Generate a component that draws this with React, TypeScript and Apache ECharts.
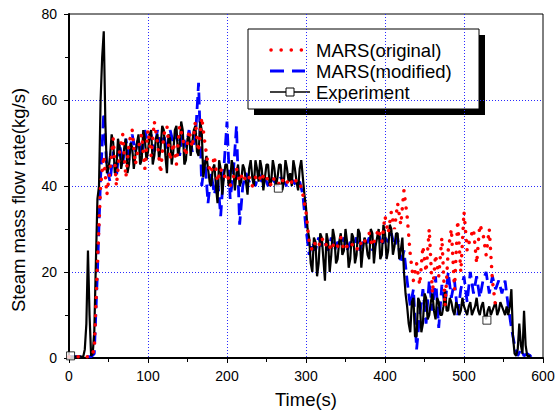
import React, { useEffect, useRef } from "react";
import * as echarts from "echarts";

// Time grid (s)
const times = [
  0, 4, 8, 12, 16, 20, 24, 28, 32, 36,
  40, 44, 48, 52, 56, 60, 64, 68, 72, 76,
  80, 84, 88, 92, 96, 100, 104, 108, 112, 116,
  120, 124, 128, 132, 136, 140, 144, 148, 152, 156,
  160, 164, 168, 172, 176, 180, 184, 188, 192, 196,
  200, 204, 208, 212, 216, 220, 224, 228, 232, 236,
  240, 244, 248, 252, 256, 260, 264, 268, 272, 276,
  280, 284, 288, 292, 296, 300, 304, 308, 312, 316,
  320, 324, 328, 332, 336, 340, 344, 348, 352, 356,
  360, 364, 368, 372, 376, 380, 384, 388, 392, 396,
  400, 404, 408, 412, 416, 420, 424, 428, 432, 436,
  440, 444, 448, 452, 456, 460, 464, 468, 472, 476,
  480, 484, 488, 492, 496, 500, 504, 508, 512, 516,
  520, 524, 528, 532, 536, 540, 544, 548, 552, 556,
  560, 564, 568, 572, 576, 580, 584, 588, 592, 596,
  600,
];
// Offset of the intermediate experiment samples (s)
const midOffset = 2;

// Experiment (kg/s) at times[i]
const experiment = [
  0.5, 0.3, 0.3, 0.3, 0.3, 2, 25, 0.5, 6, 37,
  60, 76, 43, 47, 50, 44, 49, 46, 51, 45,
  49, 47, 52, 46, 51, 48, 53, 47, 52, 49,
  53, 43, 51, 48, 54, 49, 53, 46, 52, 50,
  54, 47, 53, 45, 44, 40, 45, 36, 44, 42,
  45, 41, 44, 43, 40, 45, 41, 44, 42, 46,
  41, 44, 42, 45, 41, 44, 42, 45, 41, 44,
  43, 46, 41, 44, 42, 35, 28, 20, 27, 22,
  28, 18, 27, 24, 28, 23, 29, 25, 27, 23,
  28, 24, 29, 25, 27, 23, 29, 26, 30, 24,
  29, 25, 30, 26, 29, 25, 20, 12, 6, 14,
  5, 13, 8, 14, 10, 15, 9, 13, 10, 16,
  11, 13, 10, 12, 11, 12, 10, 13, 11, 14,
  10, 13, 9, 12, 11, 13, 11, 12, 10, 10,
  16, 1, 2, 3, 11, 0.5, 0.5,
];

// Experiment (kg/s) at times[i] + 2 s
const experimentMid = [
  0.3, 0.3, 0.3, 0.3, 0.3, 8, 10, 1, 22, 40,
  70, 55, 44, 52, 43, 51, 44, 49, 43, 50,
  44, 50, 45, 53, 46, 52, 45, 51, 46, 54,
  47, 52, 45, 53, 47, 55, 45, 51, 47, 53,
  48, 55, 42, 47, 41, 44, 40, 46, 38, 45,
  40, 46, 39, 45, 41, 44, 38, 46, 40, 44,
  46, 39, 45, 40, 46, 40, 45, 39, 46, 41,
  40, 44, 39, 46, 38, 30, 22, 28, 19, 29,
  23, 29, 20, 30, 22, 27, 24, 30, 21, 29,
  22, 30, 21, 28, 24, 30, 22, 28, 23, 31,
  23, 31, 24, 29, 23, 28, 15, 8, 13, 5,
  14, 6, 15, 9, 13, 11, 14, 10, 12, 11,
  14, 11, 13, 10, 14, 11, 12, 10, 12, 11,
  12, 10, 11, 10, 12, 10, 13, 11, 12, 12,
  5, 0.5, 8, 1, 3, 0.5,
];

// MARS (original) (kg/s)
const marsOriginal = [
  0.3, 0.3, 0.3, 0.3, 0.3, 0.3, 0.3, 0.3, 2, 22,
  40, 47, 38, 44, 51, 40, 48, 52, 42, 50,
  53, 45, 49, 52, 44, 53, 47, 55, 50, 43,
  52, 54, 46, 50, 45, 54, 51, 47, 53, 49,
  55, 48, 56, 50, 45, 43, 47, 41, 44, 42,
  43, 40, 42, 44, 41, 43, 41, 42, 40, 42,
  41, 43, 41, 42, 40, 42, 41, 40, 42, 41,
  40, 42, 41, 41, 38, 34, 27, 25, 27, 26,
  28, 26, 27, 25, 27, 26, 28, 25, 26, 27,
  26, 25, 27, 26, 28, 29, 26, 28, 30, 27,
  33, 29, 34, 30, 36, 31, 39, 33, 24, 18,
  22, 17, 26, 20, 30, 15, 24, 19, 28, 12,
  25, 30, 16, 32, 20, 34, 25, 28, 30, 22,
  31, 29, 24, 30, 18, 12,
];

// MARS (modified) (kg/s)
const marsModified = [
  0.3, 0.3, 0.3, 0.3, 0.3, 0.3, 0.3, 0.3, 1, 20,
  42, 57, 44, 41, 48, 42, 50, 45, 51, 46,
  52, 48, 51, 47, 53, 50, 52, 48, 53, 50,
  52, 48, 53, 50, 52, 47, 52, 49, 53, 48,
  51, 64, 40, 46, 36, 43, 38, 42, 33, 44,
  55, 37, 43, 54, 31, 40, 43, 41, 42, 40,
  43, 41, 42, 40, 42, 41, 40, 42, 41, 40,
  42, 41, 40, 41, 38, 30, 24, 27, 25, 28,
  26, 27, 25, 28, 25, 27, 26, 28, 25, 27,
  26, 28, 25, 27, 26, 28, 25, 27, 29, 26,
  28, 27, 29, 26, 28, 22, 25, 18, 12, 16,
  2, 10, 16, 8, 18, 11, 19, 7, 17, 12,
  20, 14, 18, 10, 16, 19, 13, 20, 15, 19,
  14, 18, 20, 15, 19, 16, 18, 15, 18, 12,
  7, 3, 0.5, 2, 0.5, 1, 0.5, 1, 1,
];

// Experiment symbol positions
const markerTimes = [2, 265, 529];
const markerValues = [0.5, 39.5, 8.8];

const legendNames = ["MARS(original)", "MARS(modified)", "Experiment"];
const xAxisName = "Time(s)";
const yAxisName = "Steam mass flow rate(kg/s)";

const FONT = "'Liberation Sans', Arial, Helvetica, sans-serif";

export default function App() {
  const ref = useRef<HTMLDivElement>(null);

  useEffect(() => {
    document.body.style.margin = "0";
    if (!ref.current) return;
    const chart = echarts.init(ref.current, null, { renderer: "svg" });
    const pair = (vals: number[]) => vals.map((v, i) => [times[i], v]);
    const expData: number[][] = [];
    experiment.forEach((v, i) => {
      expData.push([times[i], v]);
      if (i < experimentMid.length) expData.push([times[i] + midOffset, experimentMid[i]]);
    });
    const gridLine = { color: "#2a2aff", type: [1, 2] as number[], width: 1 };

    chart.setOption({
      animation: false,
      backgroundColor: "#ffffff",
      grid: {
        left: 69,
        right: 15,
        top: 14,
        bottom: 54,
        show: true,
        borderColor: "#000",
        borderWidth: 1,
        backgroundColor: "transparent",
      },
      xAxis: {
        type: "value",
        min: 0,
        max: 600,
        interval: 100,
        name: xAxisName,
        nameLocation: "middle",
        nameGap: 32,
        nameTextStyle: { fontFamily: FONT, fontSize: 18.5, color: "#000" },
        axisLine: { show: true, lineStyle: { color: "#000", width: 2 } },
        axisTick: { show: true, length: 5, lineStyle: { color: "#000", width: 1 } },
        minorTick: { show: true, splitNumber: 2, length: 4, lineStyle: { color: "#000", width: 1 } },
        axisLabel: { fontFamily: FONT, fontSize: 14, color: "#000", margin: 11 },
        splitLine: { show: true, showMinLine: false, showMaxLine: false, lineStyle: gridLine },
      },
      yAxis: {
        type: "value",
        min: 0,
        max: 80,
        interval: 20,
        axisLine: { show: true, lineStyle: { color: "#000", width: 2 } },
        axisTick: { show: true, length: 5, lineStyle: { color: "#000", width: 1 } },
        minorTick: { show: true, splitNumber: 2, length: 4, lineStyle: { color: "#000", width: 1 } },
        axisLabel: { fontFamily: FONT, fontSize: 14, color: "#000", margin: 12 },
        splitLine: { show: true, showMinLine: false, showMaxLine: false, lineStyle: gridLine },
      },
      series: [
        {
          name: legendNames[1],
          type: "line",
          data: pair(marsModified),
          symbol: "none",
          lineStyle: { color: "#0000ff", width: 2.8, type: [12, 6] },
          z: 3,
        },
        {
          name: legendNames[2],
          type: "line",
          data: expData,
          symbol: "none",
          lineStyle: { color: "#000", width: 2.2 },
          z: 4,
        },
        {
          name: legendNames[0],
          type: "line",
          data: pair(marsOriginal),
          symbol: "none",
          lineStyle: { color: "#ff0000", width: 3.5, type: [0.1, 9], cap: "round" },
          z: 5,
        },
        {
          name: legendNames[2] + " symbols",
          type: "scatter",
          data: markerTimes.map((t, i) => [t, markerValues[i]]),
          symbol: "rect",
          symbolSize: 8,
          itemStyle: { color: "#fff", borderColor: "#000", borderWidth: 1 },
          z: 6,
        },
      ],
      graphic: [
        {
          type: "text",
          x: 18,
          y: 200,
          rotation: Math.PI / 2,
          style: {
            text: yAxisName,
            fontFamily: FONT,
            fontSize: 18.5,
            fill: "#000",
            align: "center",
            verticalAlign: "middle",
          },
        },
        {
          type: "group",
          z: 100,
          children: [
            { type: "rect", shape: { x: 254, y: 35, width: 231, height: 80 }, style: { fill: "#000" } },
            {
              type: "rect",
              shape: { x: 248, y: 29, width: 231, height: 80 },
              style: { fill: "#fff", stroke: "#000", lineWidth: 1 },
            },
            {
              type: "line",
              shape: { x1: 271, y1: 50, x2: 305, y2: 50 },
              style: { stroke: "#ff0000", lineWidth: 3.5, lineDash: [0.1, 10], lineCap: "round" },
            },
            {
              type: "line",
              shape: { x1: 270, y1: 71, x2: 305, y2: 71 },
              style: { stroke: "#0000ff", lineWidth: 3, lineDash: [14, 8] },
            },
            {
              type: "line",
              shape: { x1: 270, y1: 92, x2: 310, y2: 92 },
              style: { stroke: "#000", lineWidth: 1.5 },
            },
            {
              type: "rect",
              shape: { x: 286, y: 88, width: 8, height: 8 },
              style: { fill: "#fff", stroke: "#000", lineWidth: 1 },
            },
            ...legendNames.map((n, i) => ({
              type: "text",
              x: 316,
              y: 50 + i * 21,
              style: {
                text: n,
                fontFamily: FONT,
                fontSize: 18.5,
                fill: "#000",
                verticalAlign: "middle",
              },
            })),
          ],
        },
      ],
    });

    return () => chart.dispose();
  }, []);

  return <div ref={ref} style={{ width: 558, height: 414 }} />;
}
